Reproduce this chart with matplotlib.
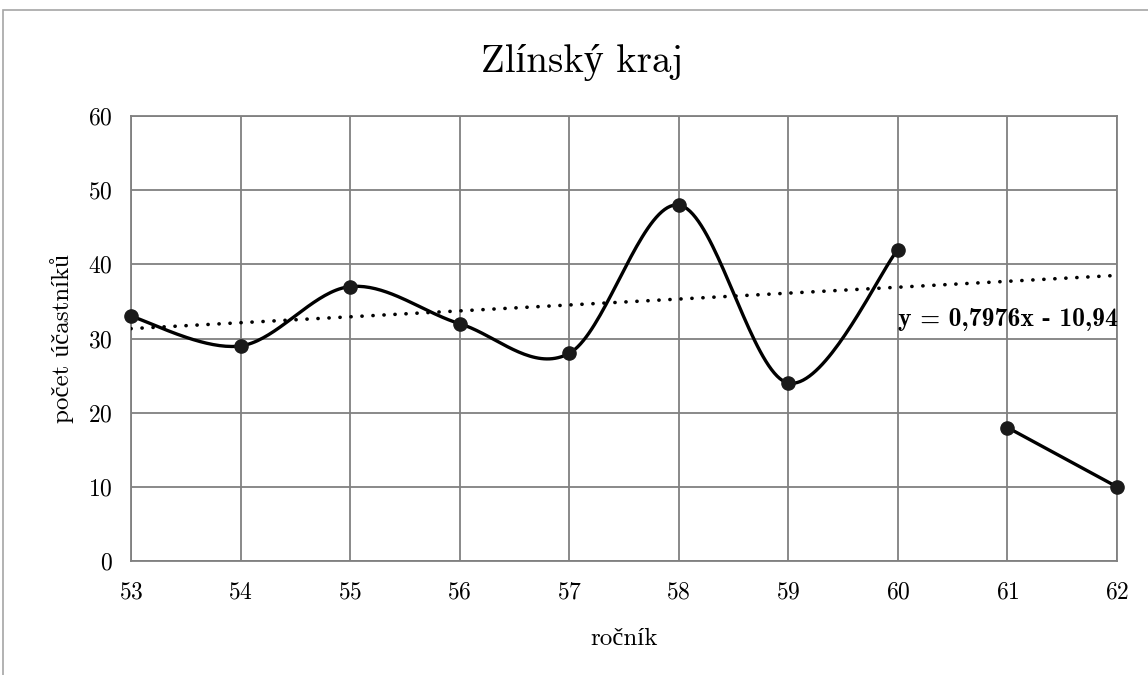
import numpy as np
import matplotlib
matplotlib.use("Agg")
import matplotlib.pyplot as plt
from matplotlib.patches import Rectangle

plt.rcParams['font.family'] = ['cmr10', 'Liberation Serif']
plt.rcParams['axes.formatter.use_mathtext'] = True

# data
rocnik = [53, 54, 55, 56, 57, 58, 59, 60]
ucastnici = [33, 29, 37, 32, 28, 48, 24, 42]
rocnik_2 = [61, 62]
ucastnici_2 = [18, 10]
trend_k = 0.7976
trend_q = -10.94
x_ticks = list(range(53, 63))
y_ticks = list(range(0, 61, 10))


def smooth(xs, ys, n=40):
    # Catmull-Rom style bezier, like the spreadsheet "smoothed line"
    xs = np.asarray(xs, float)
    ys = np.asarray(ys, float)
    px = np.concatenate([[xs[0]], xs, [xs[-1]]])
    py = np.concatenate([[ys[0]], ys, [ys[-1]]])
    out_x, out_y = [], []
    t = np.linspace(0, 1, n)
    for i in range(1, len(px) - 2):
        p0 = np.array([px[i], py[i]])
        p3 = np.array([px[i + 1], py[i + 1]])
        p1 = p0 + (np.array([px[i + 1], py[i + 1]]) - np.array([px[i - 1], py[i - 1]])) / 6
        p2 = p3 - (np.array([px[i + 2], py[i + 2]]) - np.array([px[i], py[i]])) / 6
        b = ((1 - t) ** 3)[:, None] * p0 + (3 * (1 - t) ** 2 * t)[:, None] * p1 \
            + (3 * (1 - t) * t ** 2)[:, None] * p2 + (t ** 3)[:, None] * p3
        out_x.extend(b[:, 0])
        out_y.extend(b[:, 1])
    return out_x, out_y


fig = plt.figure(figsize=(11.48, 6.75), dpi=100)
ax = fig.add_axes([0.1141, 0.1689, 0.8589, 0.6592])

# outer chart frame
fig.patches.append(Rectangle((3 / 1148, -0.1), 1.2, 1.1 - 10 / 675, transform=fig.transFigure,
                             fill=False, edgecolor='#a6a6a6', linewidth=1.2))

grid_col = '#808080'
ax.set_xlim(53, 62)
ax.set_ylim(0, 60)
ax.set_xticks(x_ticks)
ax.set_yticks(y_ticks)
ax.grid(True, color=grid_col, linewidth=1.3)
for s in ax.spines.values():
    s.set_color(grid_col)
    s.set_linewidth(1.3)
ax.tick_params(length=0, labelsize=17, pad=13)
ax.tick_params(axis='x', pad=15)

sx, sy = smooth(rocnik, ucastnici)
ax.plot(sx, sy, color='black', linewidth=2.4, zorder=3, clip_on=False)
ax.plot(rocnik, ucastnici, 'o', color='#1a1a1a', markersize=9.5, zorder=4, clip_on=False)
ax.plot(rocnik_2, ucastnici_2, color='black', linewidth=2.4, zorder=3, clip_on=False)
ax.plot(rocnik_2, ucastnici_2, 'o', color='#1a1a1a', markersize=9.5, zorder=4, clip_on=False)

tx = np.array([x_ticks[0], x_ticks[-1]], float)
ax.plot(tx, trend_k * tx + trend_q, color='black', linewidth=2.6,
        linestyle=(0, (0.05, 3.0)), dash_capstyle='round', zorder=3)

ax.text(60.0, 32.5, 'y = 0,7976x - 10,94', fontsize=18.5, fontfamily=['cmb10', 'Liberation Serif'],
        ha='left', va='center', zorder=5)

ax.set_title('Zlínský kraj', fontsize=28, pad=32, x=0.458)
ax.set_xlabel('ročník', fontsize=18, labelpad=17)
ax.set_ylabel('počet účastníků', fontsize=18, labelpad=10)

fig.savefig('out.png', dpi=100)
